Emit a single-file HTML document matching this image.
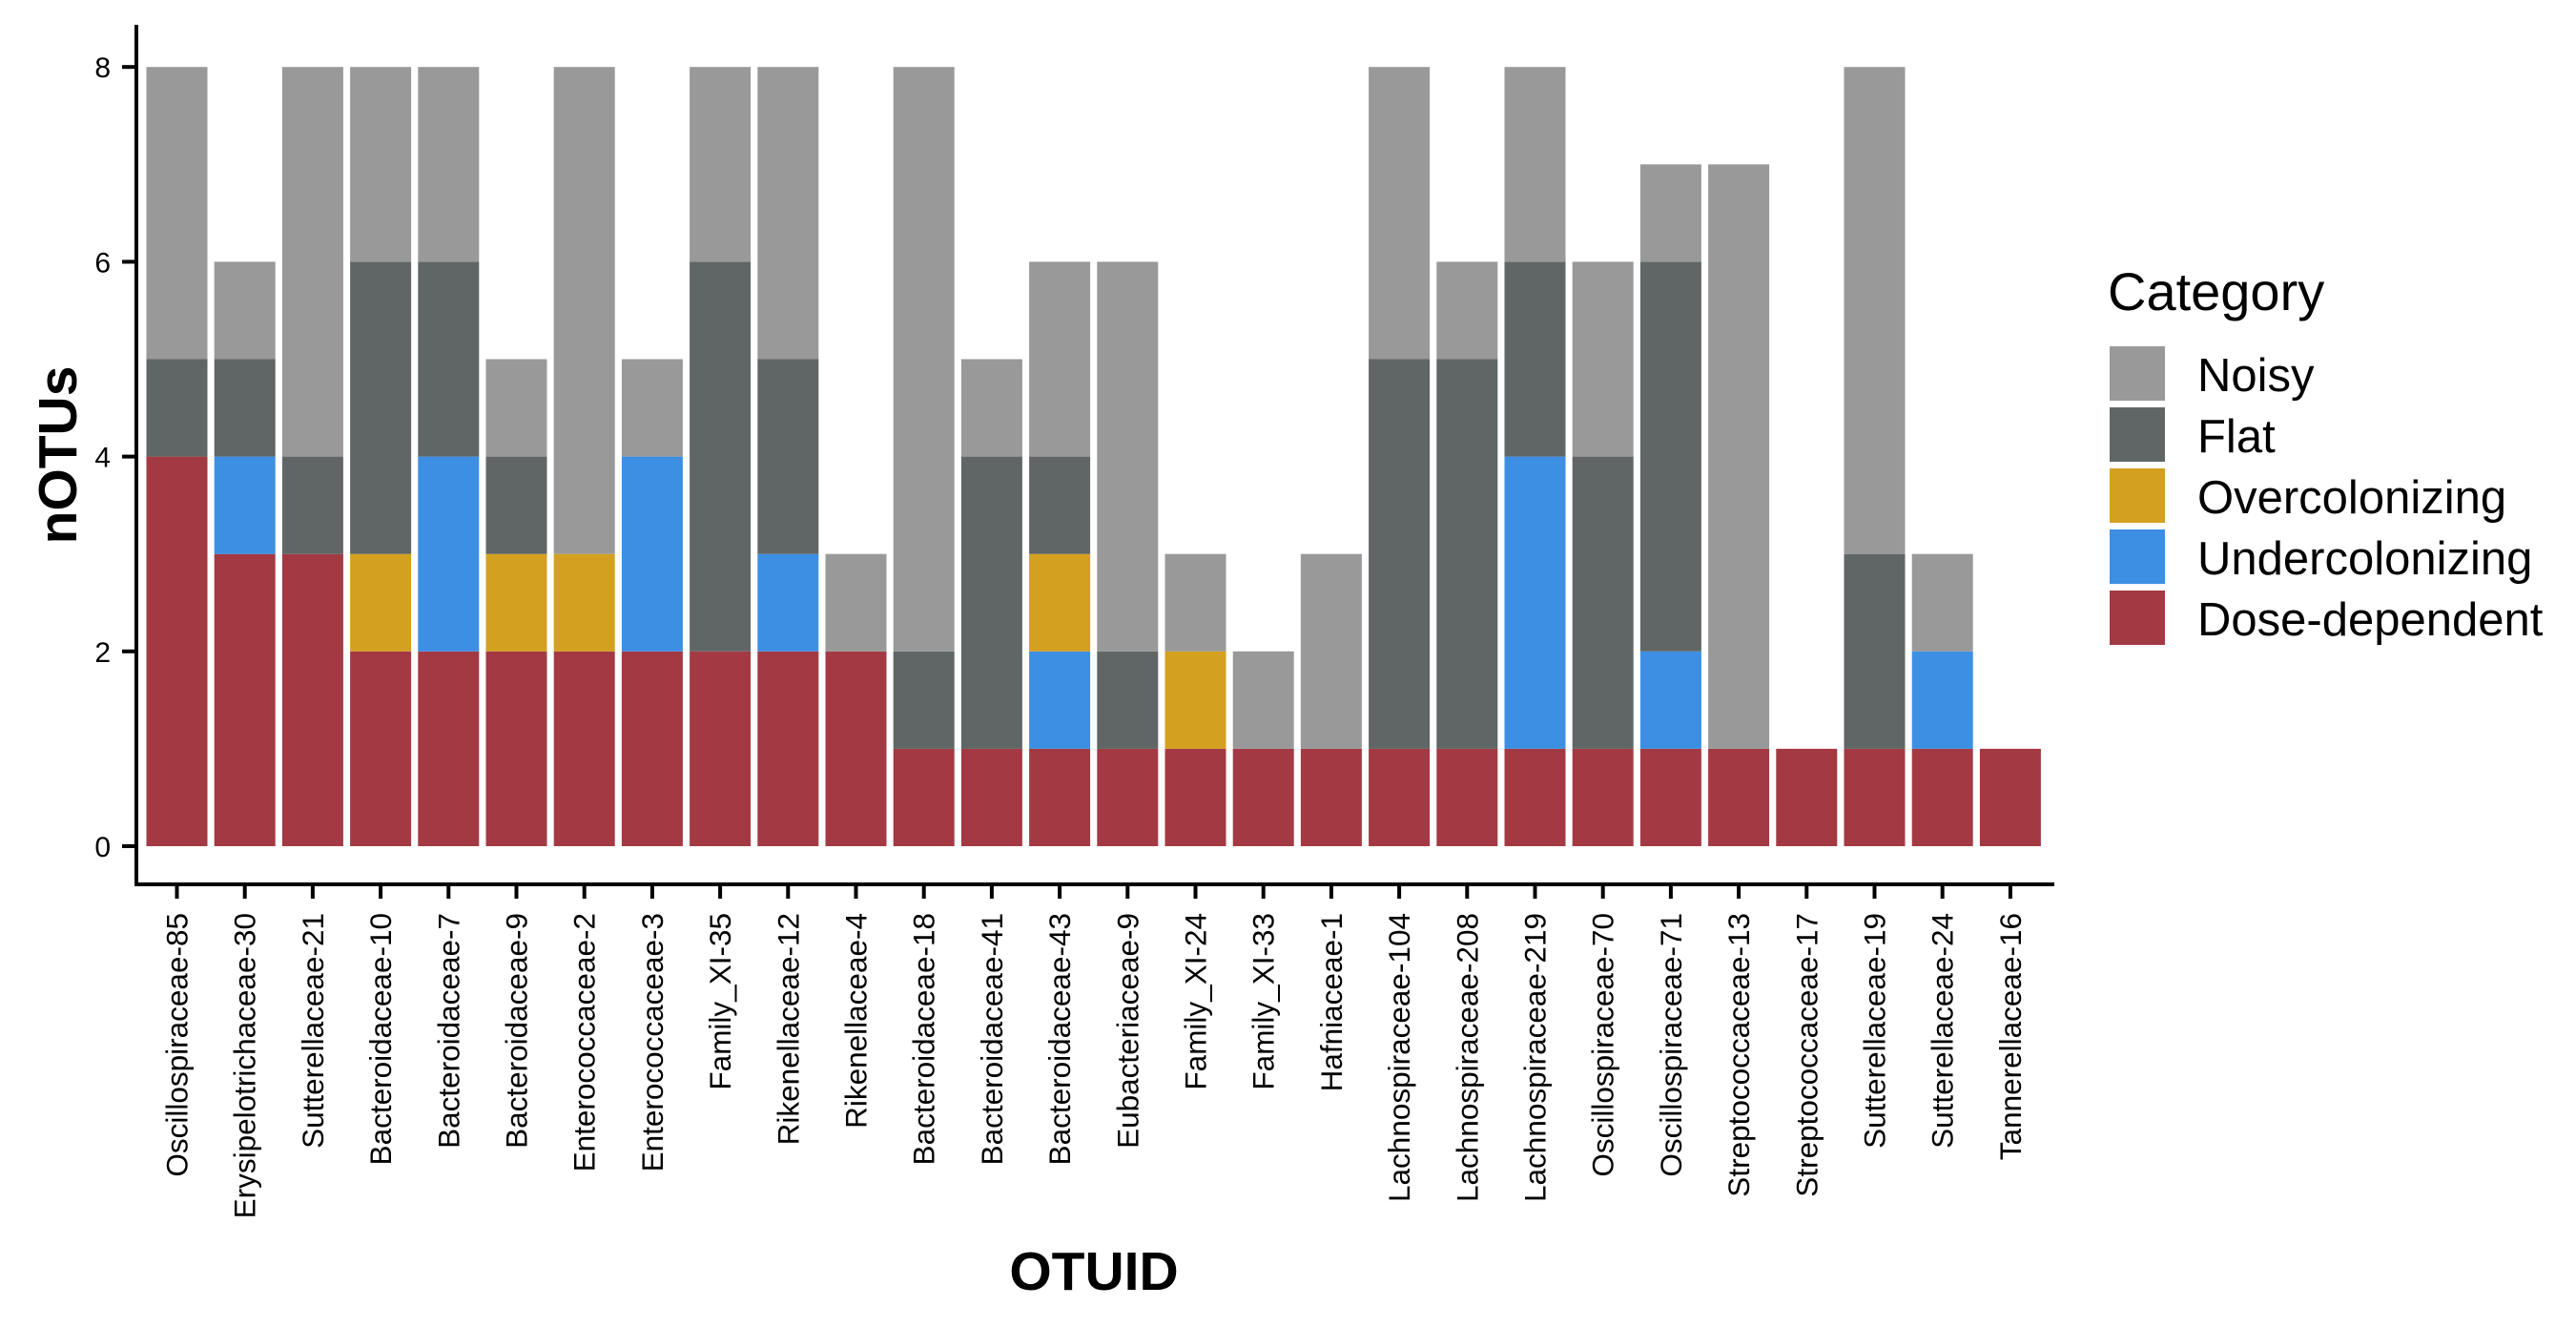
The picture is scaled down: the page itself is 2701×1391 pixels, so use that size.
<!DOCTYPE html>
<html><head><meta charset="utf-8"><style>
html,body{margin:0;padding:0;background:#fff;}
svg{display:block;font-family:"Liberation Sans",Arial,sans-serif;}
</style></head><body>
<svg id="chart" width="2701" height="1391" viewBox="0 0 2701 1391" xmlns="http://www.w3.org/2000/svg">
<rect width="2701" height="1391" fill="#fff"/>
<g id="bars"></g>
<g id="axes"></g>
<text transform="translate(80,477) rotate(-90)" text-anchor="middle" font-size="57" font-weight="bold">nOTUs</text>
<text x="1147" y="1352" text-anchor="middle" font-size="57" font-weight="bold">OTUID</text>
<g id="legend">
<text x="2210" y="325" font-size="56">Category</text>
</g>
</svg>
<script>
const categories = ["Oscillospiraceae-85","Erysipelotrichaceae-30","Sutterellaceae-21","Bacteroidaceae-10","Bacteroidaceae-7","Bacteroidaceae-9","Enterococcaceae-2","Enterococcaceae-3","Family_XI-35","Rikenellaceae-12","Rikenellaceae-4","Bacteroidaceae-18","Bacteroidaceae-41","Bacteroidaceae-43","Eubacteriaceae-9","Family_XI-24","Family_XI-33","Hafniaceae-1","Lachnospiraceae-104","Lachnospiraceae-208","Lachnospiraceae-219","Oscillospiraceae-70","Oscillospiraceae-71","Streptococcaceae-13","Streptococcaceae-17","Sutterellaceae-19","Sutterellaceae-24","Tannerellaceae-16"];
const doseDependent  = [4,3,3,2,2,2,2,2,2,2,2,1,1,1,1,1,1,1,1,1,1,1,1,1,1,1,1,1];
const undercolonizing= [0,1,0,0,2,0,0,2,0,1,0,0,0,1,0,0,0,0,0,0,3,0,1,0,0,0,1,0];
const overcolonizing = [0,0,0,1,0,1,1,0,0,0,0,0,0,1,0,1,0,0,0,0,0,0,0,0,0,0,0,0];
const flat           = [1,1,1,3,2,1,0,0,4,2,0,1,3,1,1,0,0,0,4,4,2,3,4,0,0,2,0,0];
const noisy          = [3,1,4,2,2,1,5,1,2,3,1,6,1,2,4,1,1,2,3,1,2,2,1,6,0,5,1,0];
const seriesNames = ["Dose-dependent","Undercolonizing","Overcolonizing","Flat","Noisy"];
const seriesColors = ["#A33A43","#3C8FE3","#D4A020","#606666","#999999"];
const yTicks = [0,2,4,6,8];

const NS="http://www.w3.org/2000/svg";
const series=[doseDependent,undercolonizing,overcolonizing,flat,noisy];
const x0=143, step=71.2, firstC=185.5, bw=64;
const y0=887, unit=102.1;
function xC(i){return firstC+i*step;}
function yS(v){return y0-v*unit;}
function mk(tag,attrs,parent){const e=document.createElementNS(NS,tag);for(const k in attrs)e.setAttribute(k,attrs[k]);parent.appendChild(e);return e;}
const bars=document.getElementById('bars');
categories.forEach((c,i)=>{
  let cum=0;
  series.forEach((s,k)=>{
    const v=s[i]; if(!v) return;
    const r=mk('rect',{x:xC(i)-bw/2,y:yS(cum+v),width:bw,height:v*unit,fill:seriesColors[k]},bars);
    
    
    cum+=v;
  });
});
const axes=document.getElementById('axes');
const right=xC(categories.length-1)+step*0.62+2;
const ya=mk('line',{x1:x0,y1:26,x2:x0,y2:929,stroke:'#000','stroke-width':4},axes);


const xa=mk('line',{x1:x0-2,y1:927,x2:right,y2:927,stroke:'#000','stroke-width':4},axes);


yTicks.forEach(t=>{
  const tk=mk('line',{x1:128,y1:yS(t),x2:x0,y2:yS(t),stroke:'#000','stroke-width':4},axes);
  
  
  const tx=mk('text',{x:116,y:yS(t)+11,'text-anchor':'end','font-size':30},axes);
  
  
  tx.textContent=t;
});
categories.forEach((c,i)=>{
  const tk=mk('line',{x1:xC(i),y1:927,x2:xC(i),y2:942,stroke:'#000','stroke-width':4},axes);
  
  
  const tx=mk('text',{transform:`translate(${xC(i)+11},957) rotate(-90)`,'text-anchor':'end','font-size':31.5},axes);
  
  
  tx.textContent=c;
});
const legend=document.getElementById('legend');
const order=[4,3,2,1,0];
order.forEach((k,j)=>{
  const y=363+j*64;
  const r=mk('rect',{x:2212,y:y,width:58,height:57,fill:seriesColors[k]},legend);
  
  
  const t=mk('text',{x:2304,y:y+47,'font-size':49},legend);
  
  
  t.textContent=seriesNames[k];
});
</script>
</body></html>
